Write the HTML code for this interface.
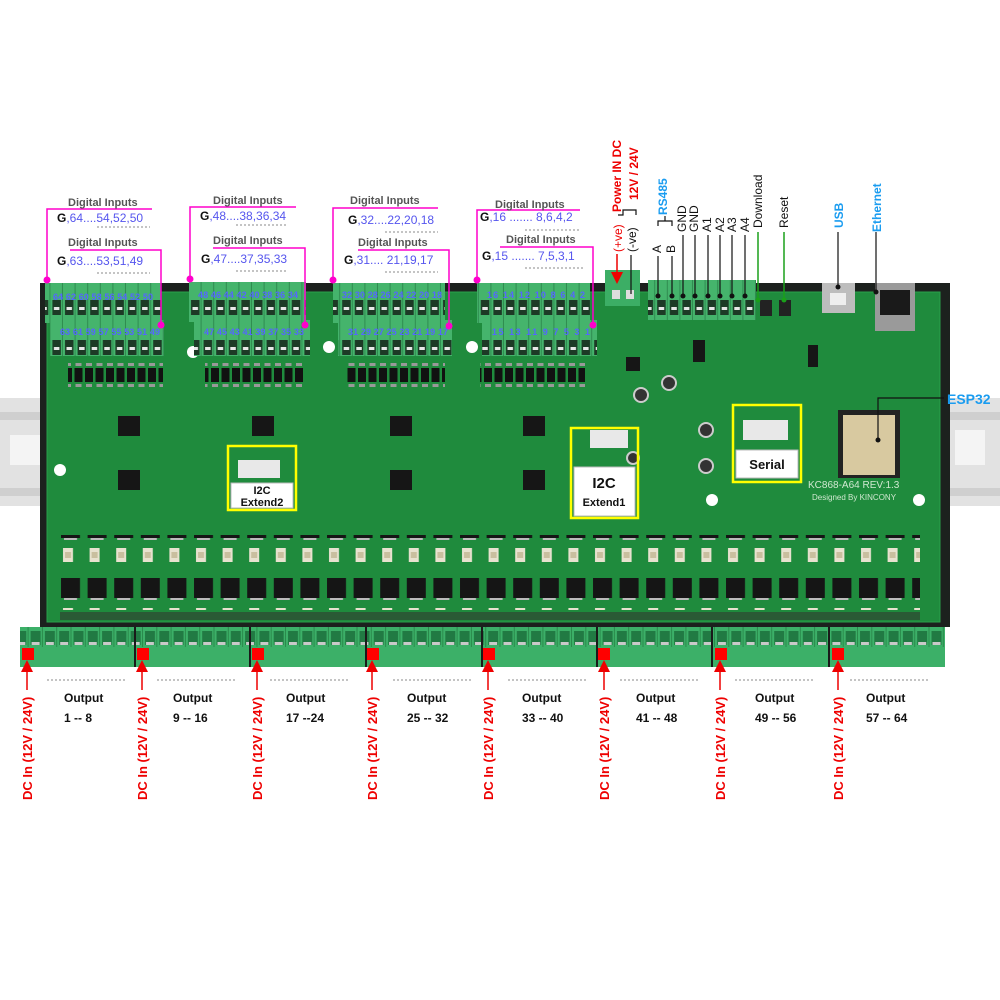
<!DOCTYPE html>
<html><head><meta charset="utf-8"><style>
html,body{margin:0;padding:0;background:#fff;}
svg{display:block;font-family:"Liberation Sans",sans-serif;}
</style></head><body>
<svg width="1000" height="1000" viewBox="0 0 1000 1000" xmlns="http://www.w3.org/2000/svg">
<defs>
<pattern id="tTop" x="0" y="0" width="12.6" height="40" patternUnits="userSpaceOnUse">
<rect width="12.6" height="40" fill="#45b46c"/>
<rect x="2" y="20" width="8.5" height="15" fill="#1d3a26"/>
<rect x="3.5" y="27" width="5.5" height="3" fill="#e8e8e8"/>
<rect x="11.6" y="0" width="1" height="40" fill="#2f8c50"/>
</pattern>
<pattern id="tBot" x="0" y="627" width="14.3" height="42" patternUnits="userSpaceOnUse">
<rect width="14.3" height="42" fill="#3cb068"/>
<rect x="2" y="4" width="10" height="14" fill="#217a43"/>
<rect x="3" y="15" width="8" height="3" fill="#c9c9c9"/>
<rect x="13.3" y="0" width="1" height="20" fill="#2a8a4c"/>
</pattern>
<pattern id="opto" x="60" y="0" width="26.6" height="60" patternUnits="userSpaceOnUse">
<rect x="3" y="8" width="10" height="14" fill="#e8e2cf"/>
<rect x="5" y="12" width="6" height="6" fill="#c9bf9f"/>
<rect x="1" y="38" width="19" height="20" fill="#151515"/>
<rect x="4" y="58" width="13" height="4" fill="#bbb"/>
</pattern>
<pattern id="ics" x="0" y="0" width="10.5" height="30" patternUnits="userSpaceOnUse">
<rect x="1" y="8" width="8" height="14" fill="#111"/>
<rect x="2" y="3" width="6" height="3" fill="#999"/>
<rect x="2" y="24" width="6" height="3" fill="#999"/>
</pattern>
<marker id="ar" markerWidth="8" markerHeight="8" refX="4" refY="4" orient="auto"><path d="M0,0 L8,4 L0,8 z" fill="#e00"/></marker>
</defs>

<!-- DIN rail -->
<rect x="0" y="398" width="1000" height="108" fill="#e2e2e2"/>
<rect x="0" y="412" width="1000" height="8" fill="#cfcfcf"/>
<rect x="0" y="488" width="1000" height="8" fill="#cfcfcf"/>
<rect x="10" y="435" width="30" height="30" fill="#f4f4f4"/>
<rect x="955" y="430" width="30" height="35" fill="#f4f4f4"/>

<!-- case + pcb -->
<rect x="40" y="283" width="910" height="344" fill="#1c211e"/>
<rect x="47" y="292" width="893" height="330" fill="#1f8b3d"/>
<rect x="47" y="292" width="893" height="330" fill="none" stroke="#2aa04b" stroke-width="1"/>

<!-- input chip rows -->
<rect x="68" y="360" width="95" height="30" fill="url(#ics)"/>
<rect x="205" y="360" width="100" height="30" fill="url(#ics)"/>
<rect x="345" y="360" width="100" height="30" fill="url(#ics)"/>
<rect x="480" y="360" width="105" height="30" fill="url(#ics)"/>

<!-- big ICs -->
<g fill="#161616">
<rect x="118" y="416" width="22" height="20"/><rect x="118" y="470" width="22" height="20"/>
<rect x="252" y="416" width="22" height="20"/><rect x="390" y="416" width="22" height="20"/>
<rect x="390" y="470" width="22" height="20"/><rect x="523" y="416" width="22" height="20"/>
<rect x="523" y="470" width="22" height="20"/><rect x="626" y="357" width="14" height="14"/>
<rect x="808" y="345" width="10" height="22"/><rect x="693" y="340" width="12" height="22"/>
</g>
<g fill="#fff"><circle cx="60" cy="470" r="6"/><circle cx="193" cy="352" r="6"/><circle cx="919" cy="500" r="6"/><circle cx="712" cy="500" r="6"/><circle cx="329" cy="347" r="6"/><circle cx="472" cy="347" r="6"/></g>
<g fill="#333" stroke="#ccc" stroke-width="2"><circle cx="641" cy="395" r="7"/><circle cx="669" cy="383" r="7"/><circle cx="706" cy="430" r="7"/><circle cx="706" cy="466" r="7"/><circle cx="633" cy="458" r="6"/></g>

<!-- optos and mosfets -->
<rect x="60" y="535" width="860" height="75" fill="url(#opto)"/>
<rect x="60" y="612" width="860" height="8" fill="#2a5a35"/>

<!-- top input terminals -->
<rect x="45" y="283" width="116" height="40" fill="url(#tTop)"/>
<rect x="50" y="320" width="114" height="36" fill="url(#tTop)"/>
<rect x="189" y="282" width="117" height="40" fill="url(#tTop)"/>
<rect x="194" y="320" width="116" height="36" fill="url(#tTop)"/>
<rect x="333" y="283" width="112" height="40" fill="url(#tTop)"/>
<rect x="338" y="320" width="114" height="36" fill="url(#tTop)"/>
<rect x="477" y="283" width="113" height="40" fill="url(#tTop)"/>
<rect x="482" y="320" width="115" height="36" fill="url(#tTop)"/>
<g fill="#5566ff" font-size="9" font-weight="bold">
<text x="53" y="300" textLength="100">64 62 60 58 56 54 52 50</text>
<text x="60" y="335" textLength="100">63 61 59 57 55 53 51 49</text>
<text x="198" y="298" textLength="100">48 46 44 42 40 38 36 34</text>
<text x="204" y="335" textLength="100">47 45 43 41 39 37 35 33</text>
<text x="342" y="298" textLength="100">32 30 28 26 24 22 20 18</text>
<text x="348" y="335" textLength="100">31 29 27 25 23 21 19 17</text>
<text x="487" y="298" textLength="98">16 14 12 10 8 6 4 2</text>
<text x="492" y="335" textLength="98">15 13 11 9 7 5 3 1</text>
</g>

<!-- power + header terminals -->
<rect x="605" y="270" width="35" height="36" fill="#3cae65"/>
<rect x="612" y="290" width="8" height="9" fill="#ddd"/><rect x="626" y="290" width="8" height="9" fill="#ddd"/>
<rect x="648" y="280" width="108" height="40" fill="url(#tTop)"/>
<rect x="822" y="283" width="33" height="30" fill="#bdbdbd"/><rect x="830" y="293" width="16" height="12" fill="#eee"/>
<rect x="875" y="283" width="40" height="48" fill="#9a9a9a"/><rect x="880" y="290" width="30" height="25" fill="#1a1a1a"/>
<rect x="760" y="300" width="12" height="16" fill="#222"/><rect x="779" y="300" width="12" height="16" fill="#222"/>

<!-- ESP32 -->
<rect x="838" y="410" width="62" height="68" fill="#222"/>
<rect x="843" y="415" width="52" height="60" fill="#d8c9a0"/>
<text x="808" y="488" font-size="10" fill="#d0e8d0">KC868-A64   REV:1.3</text>
<text x="812" y="500" font-size="8" fill="#d0e8d0">Designed By  KINCONY</text>

<!-- yellow boxes -->
<g stroke="#ffff00" stroke-width="2.5" fill="none">
<rect x="228" y="446" width="68" height="64"/>
<rect x="571" y="428" width="67" height="90"/>
<rect x="733" y="405" width="68" height="77"/>
</g>
<rect x="238" y="460" width="42" height="18" fill="#e8e8e8"/>
<rect x="590" y="430" width="38" height="18" fill="#e8e8e8"/>
<rect x="743" y="420" width="45" height="20" fill="#e8e8e8"/>
<rect x="231" y="483" width="62" height="25" fill="#fff" stroke="#bbb"/>
<rect x="574" y="467" width="61" height="49" fill="#fff" stroke="#bbb"/>
<rect x="736" y="450" width="62" height="28" fill="#fff" stroke="#bbb"/>
<g font-weight="bold" fill="#111" text-anchor="middle">
<text x="262" y="494" font-size="11">I2C</text>
<text x="262" y="506" font-size="11">Extend2</text>
<text x="604" y="488" font-size="15">I2C</text>
<text x="604" y="506" font-size="11">Extend1</text>
<text x="767" y="469" font-size="13">Serial</text>
</g>

<!-- bottom terminals -->
<rect x="20" y="627" width="925" height="40" fill="url(#tBot)"/>
<g fill="#1a1a1a"><rect x="134" y="627" width="2" height="40"/><rect x="249" y="627" width="2" height="40"/><rect x="365" y="627" width="2" height="40"/><rect x="481" y="627" width="2" height="40"/><rect x="596" y="627" width="2" height="40"/><rect x="711" y="627" width="2" height="40"/><rect x="828" y="627" width="2" height="40"/></g>
<g fill="#ff0000"><rect x="22" y="648" width="12" height="12"/><rect x="137" y="648" width="12" height="12"/><rect x="252" y="648" width="12" height="12"/><rect x="367" y="648" width="12" height="12"/><rect x="483" y="648" width="12" height="12"/><rect x="598" y="648" width="12" height="12"/><rect x="715" y="648" width="12" height="12"/><rect x="832" y="648" width="12" height="12"/></g>

<!-- DC In labels -->
<g stroke="#e00" stroke-width="1.5" marker-end="url(#ar)">
<line x1="27" y1="690" x2="27" y2="666"/><line x1="142" y1="690" x2="142" y2="666"/><line x1="257" y1="690" x2="257" y2="666"/><line x1="372" y1="690" x2="372" y2="666"/><line x1="488" y1="690" x2="488" y2="666"/><line x1="604" y1="690" x2="604" y2="666"/><line x1="720" y1="690" x2="720" y2="666"/><line x1="838" y1="690" x2="838" y2="666"/>
</g>
<g fill="#ee0000" font-size="13" font-weight="bold">
<text transform="translate(32,800) rotate(-90)">DC In (12V / 24V)</text>
<text transform="translate(147,800) rotate(-90)">DC In (12V / 24V)</text>
<text transform="translate(262,800) rotate(-90)">DC In (12V / 24V)</text>
<text transform="translate(377,800) rotate(-90)">DC In (12V / 24V)</text>
<text transform="translate(493,800) rotate(-90)">DC In (12V / 24V)</text>
<text transform="translate(609,800) rotate(-90)">DC In (12V / 24V)</text>
<text transform="translate(725,800) rotate(-90)">DC In (12V / 24V)</text>
<text transform="translate(843,800) rotate(-90)">DC In (12V / 24V)</text>
</g>
<g stroke="#888" stroke-dasharray="2,2" stroke-width="1">
<line x1="47" y1="680" x2="125" y2="680"/><line x1="157" y1="680" x2="235" y2="680"/><line x1="270" y1="680" x2="348" y2="680"/><line x1="393" y1="680" x2="472" y2="680"/><line x1="508" y1="680" x2="588" y2="680"/><line x1="620" y1="680" x2="700" y2="680"/><line x1="735" y1="680" x2="815" y2="680"/><line x1="850" y1="680" x2="930" y2="680"/>
</g>
<g font-size="12" font-weight="bold" fill="#111">
<text x="64" y="702">Output</text><text x="64" y="722">1 -- 8</text>
<text x="173" y="702">Output</text><text x="173" y="722">9 -- 16</text>
<text x="286" y="702">Output</text><text x="286" y="722">17 --24</text>
<text x="407" y="702">Output</text><text x="407" y="722">25 -- 32</text>
<text x="522" y="702">Output</text><text x="522" y="722">33 -- 40</text>
<text x="636" y="702">Output</text><text x="636" y="722">41 -- 48</text>
<text x="755" y="702">Output</text><text x="755" y="722">49 -- 56</text>
<text x="866" y="702">Output</text><text x="866" y="722">57 -- 64</text>
</g>

<!-- Digital inputs labels -->
<g stroke="#ff00cc" stroke-width="1.5" fill="none">
<polyline points="152,209 47,209 47,280"/>
<polyline points="70,250 161,250 161,325"/>
<polyline points="296,207 190,207 190,279"/>
<polyline points="213,248 305,248 305,325"/>
<polyline points="438,208 333,208 333,280"/>
<polyline points="358,250 449,250 449,326"/>
<polyline points="580,210 477,210 477,280"/>
<polyline points="500,247 593,247 593,325"/>
</g>
<g fill="#ff00cc"><circle cx="47" cy="280" r="3.5"/><circle cx="161" cy="325" r="3.5"/><circle cx="190" cy="279" r="3.5"/><circle cx="305" cy="325" r="3.5"/><circle cx="333" cy="280" r="3.5"/><circle cx="449" cy="326" r="3.5"/><circle cx="477" cy="280" r="3.5"/><circle cx="593" cy="325" r="3.5"/></g>
<g stroke="#888" stroke-dasharray="2,2"><line x1="97" y1="227" x2="150" y2="227"/><line x1="97" y1="273" x2="150" y2="273"/><line x1="236" y1="225" x2="288" y2="225"/><line x1="236" y1="271" x2="288" y2="271"/><line x1="385" y1="232" x2="438" y2="232"/><line x1="385" y1="272" x2="438" y2="272"/><line x1="525" y1="230" x2="580" y2="230"/><line x1="525" y1="268" x2="585" y2="268"/></g>
<g font-size="11" font-weight="bold" fill="#555">
<text x="68" y="206">Digital Inputs</text><text x="68" y="246">Digital Inputs</text>
<text x="213" y="204">Digital Inputs</text><text x="213" y="244">Digital Inputs</text>
<text x="350" y="204">Digital Inputs</text><text x="358" y="246">Digital Inputs</text>
<text x="495" y="208">Digital Inputs</text><text x="506" y="243">Digital Inputs</text>
</g>
<g font-size="12" fill="#5555ee">
<text x="57" y="222"><tspan font-weight="bold" fill="#111">G</tspan>,64....54,52,50</text>
<text x="57" y="265"><tspan font-weight="bold" fill="#111">G</tspan>,63....53,51,49</text>
<text x="200" y="220"><tspan font-weight="bold" fill="#111">G</tspan>,48....38,36,34</text>
<text x="201" y="263"><tspan font-weight="bold" fill="#111">G</tspan>,47....37,35,33</text>
<text x="348" y="224"><tspan font-weight="bold" fill="#111">G</tspan>,32....22,20,18</text>
<text x="344" y="264"><tspan font-weight="bold" fill="#111">G</tspan>,31.... 21,19,17</text>
<text x="480" y="221"><tspan font-weight="bold" fill="#111">G</tspan>,16 ....... 8,6,4,2</text>
<text x="482" y="260"><tspan font-weight="bold" fill="#111">G</tspan>,15 ....... 7,5,3,1</text>
</g>

<!-- top-right labels -->
<g font-weight="bold" font-size="12">
<text transform="translate(621,212) rotate(-90)" fill="#ee0000">Power IN DC</text>
<text transform="translate(638,200) rotate(-90)" fill="#ee0000">12V / 24V</text>
<text transform="translate(622,252) rotate(-90)" fill="#ee0000" font-weight="normal">(+ve)</text>
<text transform="translate(636,252) rotate(-90)" fill="#111" font-weight="normal">(-ve)</text>
<text transform="translate(667,215) rotate(-90)" fill="#1a9cf0">RS485</text>
<text transform="translate(843,228) rotate(-90)" fill="#1a9cf0">USB</text>
<text transform="translate(881,232) rotate(-90)" fill="#1a9cf0">Ethernet</text>
<text x="947" y="404" fill="#1a9cf0" font-size="14">ESP32</text>
</g>
<g font-size="12" fill="#111">
<text transform="translate(661,253) rotate(-90)">A</text>
<text transform="translate(675,253) rotate(-90)">B</text>
<text transform="translate(686,232) rotate(-90)">GND</text>
<text transform="translate(698,232) rotate(-90)">GND</text>
<text transform="translate(711,232) rotate(-90)">A1</text>
<text transform="translate(724,232) rotate(-90)">A2</text>
<text transform="translate(736,232) rotate(-90)">A3</text>
<text transform="translate(749,232) rotate(-90)">A4</text>
<text transform="translate(762,228) rotate(-90)">Download</text>
<text transform="translate(788,228) rotate(-90)">Reset</text>
</g>
<g stroke="#111" stroke-width="1.2" fill="none">
<polyline points="618,215 623,215 623,210 636,210 636,215"/>
<polyline points="658,226 658,221 672,221 672,226"/>
<line x1="665" y1="221" x2="665" y2="216"/>
<line x1="631" y1="255" x2="631" y2="294"/>
<line x1="658" y1="256" x2="658" y2="296"/><line x1="672" y1="256" x2="672" y2="296"/>
<line x1="683" y1="235" x2="683" y2="296"/><line x1="695" y1="235" x2="695" y2="296"/>
<line x1="708" y1="235" x2="708" y2="296"/><line x1="720" y1="235" x2="720" y2="296"/>
<line x1="732" y1="235" x2="732" y2="296"/><line x1="745" y1="235" x2="745" y2="296"/>
<line x1="838" y1="232" x2="838" y2="287"/><line x1="876" y1="232" x2="876" y2="292"/>
<polyline points="944,398 878,398 878,440"/>
</g>
<g fill="#111"><circle cx="658" cy="296" r="2.5"/><circle cx="672" cy="296" r="2.5"/><circle cx="683" cy="296" r="2.5"/><circle cx="695" cy="296" r="2.5"/><circle cx="708" cy="296" r="2.5"/><circle cx="720" cy="296" r="2.5"/><circle cx="732" cy="296" r="2.5"/><circle cx="745" cy="296" r="2.5"/><circle cx="838" cy="287" r="2.5"/><circle cx="876" cy="292" r="2.5"/><circle cx="878" cy="440" r="2.5"/></g>
<g stroke="#1aa01a" stroke-width="1.5"><line x1="758" y1="232" x2="758" y2="300"/><line x1="784" y1="232" x2="784" y2="300"/></g>
<g fill="#1aa01a"><circle cx="758" cy="300" r="2.5"/><circle cx="784" cy="300" r="2.5"/></g>
<line x1="617" y1="254" x2="617" y2="278" stroke="#e00" stroke-width="1.5" marker-end="url(#ar)"/>
</svg>
</body></html>
